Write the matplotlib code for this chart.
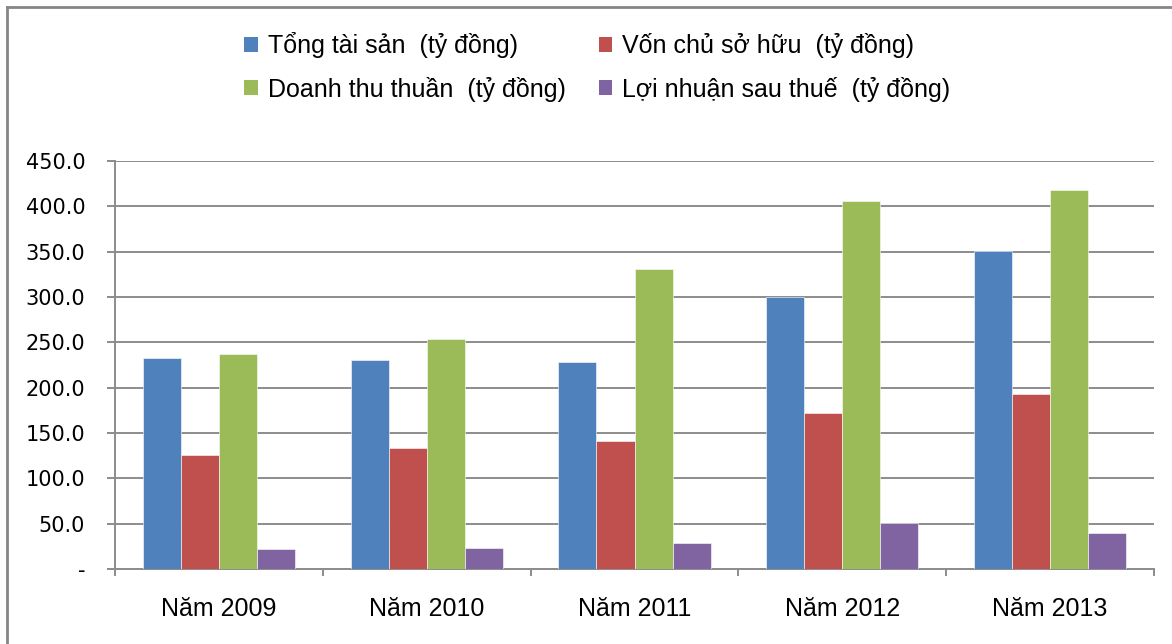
import matplotlib
matplotlib.use("Agg")
import matplotlib.pyplot as plt
from matplotlib.lines import Line2D
from matplotlib.patches import Patch
import numpy as np

categories = ["Năm 2009", "Năm 2010", "Năm 2011", "Năm 2012", "Năm 2013"]
series_names = ["Tổng tài sản  (tỷ đồng)", "Vốn chủ sở hữu  (tỷ đồng)",
                "Doanh thu thuần  (tỷ đồng)", "Lợi nhuận sau thuế  (tỷ đồng)"]
tong_tai_san = [232.4, 230.5, 228.6, 300.2, 350.5]
von_chu_so_huu = [125.5, 133.6, 141.6, 171.8, 192.7]
doanh_thu_thuan = [237.1, 253.9, 330.7, 405.6, 417.7]
loi_nhuan = [22.4, 23.5, 28.6, 51.3, 40.3]
colors = ["#4F81BD", "#C0504D", "#9BBB59", "#8064A2"]
yticks = [0, 50, 100, 150, 200, 250, 300, 350, 400, 450]
ytick_labels = ["-", "50.0", "100.0", "150.0", "200.0", "250.0", "300.0", "350.0", "400.0", "450.0"]

W, H = 1172, 644
fig = plt.figure(figsize=(W / 100, H / 100), dpi=100)
ax = fig.add_axes([115 / W, 1 - 569.3 / H, (1154 - 115) / W, (569.3 - 160.7) / H])

data = [tong_tai_san, von_chu_so_huu, doanh_thu_thuan, loi_nhuan]
x = np.arange(len(categories))
bw = 0.183
for i, (vals, c) in enumerate(zip(data, colors)):
    ax.bar(x + (i - 1.5) * bw, vals, width=bw, color=c, edgecolor="white",
           linewidth=0.4, zorder=3)

ax.set_xlim(-0.5, len(categories) - 0.5)
ax.set_ylim(0, 450)
ax.set_yticks(yticks)
ax.set_yticklabels(ytick_labels, fontsize=15, family="DejaVu Sans")
ax.yaxis.grid(True, color="#8C8C8C", linewidth=1.4, zorder=0)
ax.set_xticks(x)
ax.set_xticklabels(categories, fontsize=18, family="Liberation Sans")
ax.tick_params(axis="x", length=0, pad=20)
ax.set_xticks(np.arange(-0.5, len(categories)), minor=True)
ax.tick_params(axis="x", which="minor", length=5, width=1.4, color="#8C8C8C", direction="out")
ax.tick_params(axis="y", length=6, width=1.4, color="#8C8C8C", direction="out", pad=15.5)
for s in ["top", "right"]:
    ax.spines[s].set_visible(False)
for s in ["left", "bottom"]:
    ax.spines[s].set_color("#8C8C8C")
    ax.spines[s].set_linewidth(1.4)

# legend ordering (row-wise display)
order = [0, 2, 1, 3]
handles = [Patch(facecolor=colors[i], edgecolor="none") for i in order]
labels = [series_names[i] for i in order]
leg = fig.legend(handles, labels, ncol=2, loc="upper left",
                 bbox_to_anchor=(222 / W, 1 - 10 / H), frameon=False,
                 prop={"family": "Liberation Sans", "size": 18},
                 handlelength=0.55, handleheight=0.55, handletextpad=0.4,
                 columnspacing=1.3, labelspacing=0.72)

# outer frame (left and top lines)
fig.add_artist(Line2D([7 / W, 7 / W], [0, 1 - 7 / H], transform=fig.transFigure,
                      color="#868686", linewidth=2))
fig.add_artist(Line2D([7 / W, 1], [1 - 7 / H, 1 - 7 / H], transform=fig.transFigure,
                      color="#868686", linewidth=2))

fig.savefig("out.png", dpi=100)
